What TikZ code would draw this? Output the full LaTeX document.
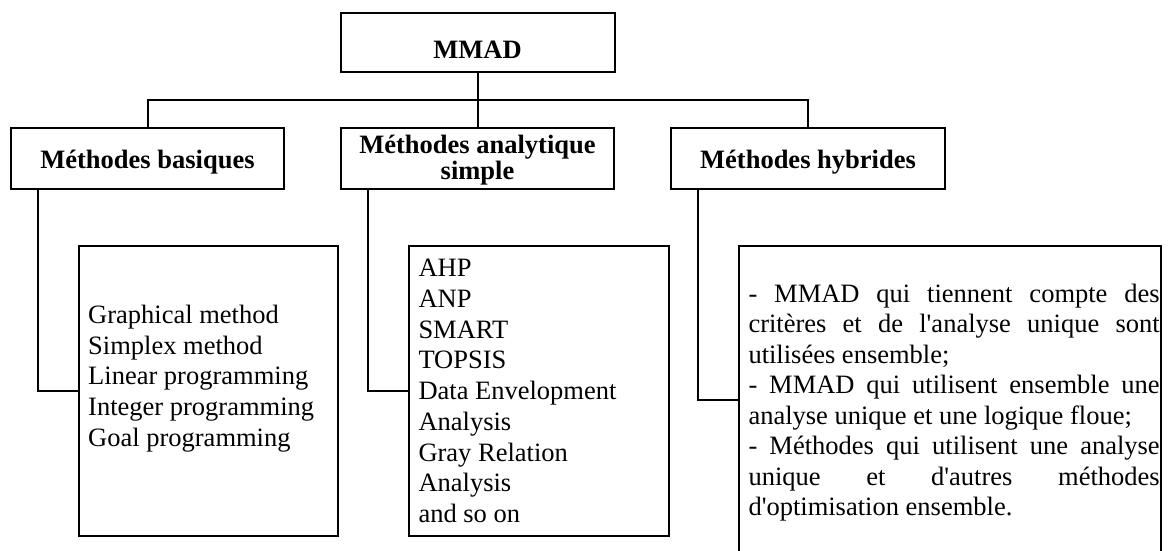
\documentclass[tikz,border=0pt]{standalone}
\usepackage{fontspec}
\setmainfont{Liberation Serif}[Ligatures=TeXOff]
\newcommand\jline[1]{\makebox[411.2pt][s]{#1}}
\begin{document}
\begin{tikzpicture}[x=1pt,y=-1pt,
  box/.style={draw, line width=2pt, rectangle, inner sep=0pt, outer sep=0pt, anchor=north west},
  hd/.style={font=\fontsize{26.5}{27}\selectfont\bfseries, inner sep=0pt, anchor=base},
  txt/.style={font=\fontsize{26.5}{30.8}\selectfont, inner sep=0pt, anchor=base west},
  link/.style={draw, line width=2pt}]
\useasboundingbox (0,0) rectangle (1173,550);
% boxes
\node[box, minimum width=274pt, minimum height=59pt] (mmad) at (340.5,12.5) {};
\node[box, minimum width=273pt, minimum height=60.5pt] (b1) at (11,128) {};
\node[box, minimum width=273pt, minimum height=60.5pt] (b2) at (341,128) {};
\node[box, minimum width=274pt, minimum height=60.5pt] (b3) at (671,128) {};
\node[box, minimum width=259.8pt, minimum height=289.7pt] (l1) at (78.5,246) {};
\node[box, minimum width=260.2pt, minimum height=289.7pt] (l2) at (408.7,246) {};
\node[box, minimum width=422.2pt, minimum height=309pt] (l3) at (738.8,245.5) {};
% headings
\node[hd] (tmmad) at (477.5,58) {MMAD};
\node[hd] (t1) at (147.5,168) {Méthodes basiques};
\node[hd] (t2a) at (477.5,153) {Méthodes analytique};
\node[hd] (t2b) at (477.5,179) {simple};
\node[hd] (t3) at (808,168) {Méthodes hybrides};
% connectors
\draw[link] (mmad.south) -- (b2.north);
\draw[link] (b1.north) -- ++(0,-28) -| (b3.north);
\draw[link] ([xshift=27.3pt]b1.south west) |- (l1.west);
\draw[link] ([xshift=27.3pt]b2.south west) |- (l2.west);
\draw[link] ([xshift=27.4pt]b3.south west) |- (l3.west);
% list texts
\foreach \t [count=\i] in {Graphical method, Simplex method, Linear programming, Integer programming, Goal programming}
  {\node[txt] (a\i) at (88,{323.3+30.8*(\i-1)}) {\t};}
\foreach \t [count=\i] in {AHP, ANP, SMART, TOPSIS, Data Envelopment, Analysis, Gray Relation, Analysis, and so on}
  {\node[txt] (m\i) at (418.3,{276.7+30.75*(\i-1)}) {\t};}
\foreach \t [count=\i] in {
  {\jline{- MMAD qui tiennent compte des}},
  {\jline{critères et de l'analyse unique sont}},
  {utilisées ensemble;},
  {\jline{- MMAD qui utilisent ensemble une}},
  {analyse unique et une logique floue;},
  {\jline{- Méthodes qui utilisent une analyse}},
  {\jline{unique et d'autres méthodes}},
  {d'optimisation ensemble.}}
  {\node[txt] (h\i) at (748.3,{302+30.5*(\i-1)}) {\t};}
\end{tikzpicture}
\end{document}
